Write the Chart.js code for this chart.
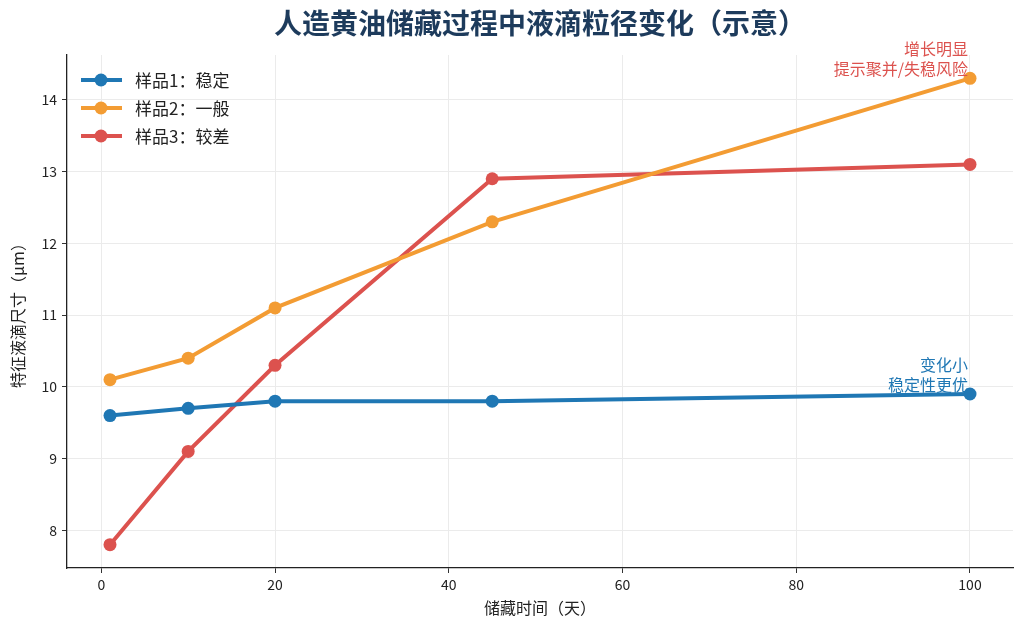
<!DOCTYPE html>
<html>
<head>
<meta charset="utf-8">
<script src="https://cdn.jsdelivr.net/npm/chart.js@4/dist/chart.umd.min.js"></script>
<style>
  html, body { margin: 0; padding: 0; background: #fff; }
  #wrap { width: 1024px; height: 632px; }
</style>
</head>
<body>
<div id="wrap"><canvas id="dropChart"></canvas></div>
<script>
const days = [1, 10, 20, 45, 100]
const sample1 = [9.6, 9.7, 9.8, 9.8, 9.9]
const sample2 = [10.1, 10.4, 11.1, 12.3, 14.3]
const sample3 = [7.8, 9.1, 10.3, 12.9, 13.1]
const seriesNames = ['样品1：稳定', '样品2：一般', '样品3：较差']
const seriesColors = ['#1f77b4', '#f39c33', '#dc524e']
const xTicks = [0, 20, 40, 60, 80, 100]
const yTicks = [8, 9, 10, 11, 12, 13, 14]

const FONT = '"Noto Sans CJK SC", "Noto Sans", sans-serif'

function toPoints(values) {
    return days.map((d, i) => ({ x: d, y: values[i] }))
}

const notes = [
    { x: 100, y: 14.3, lines: ['增长明显', '提示聚并/失稳风险'], color: '#dc524e' },
    { x: 100, y: 9.9, lines: ['变化小', '稳定性更优'], color: '#1f77b4' }
]

const extras = {
    id: 'extras',
    afterDraw(chart) {
        const ctx = chart.ctx
        const xs = chart.scales.x
        const ys = chart.scales.y
        ctx.save()
        // title
        ctx.fillStyle = '#1d3b5c'
        ctx.font = 'bold 28px ' + FONT
        ctx.textAlign = 'center'
        ctx.textBaseline = 'middle'
        ctx.fillText('人造黄油储藏过程中液滴粒径变化（示意）', (chart.chartArea.left + chart.chartArea.right) / 2, 23)

        // annotations
        ctx.font = '16px ' + FONT
        ctx.textAlign = 'right'
        notes.forEach(n => {
            ctx.fillStyle = n.color
            const px = xs.getPixelForValue(n.x) - 2
            const py = ys.getPixelForValue(n.y)
            ctx.fillText(n.lines[0], px, py - 29)
            ctx.fillText(n.lines[1], px, py - 9)
        })

        // legend inside plot
        ctx.textAlign = 'left'
        ctx.font = '17px ' + FONT
        chart.data.datasets.forEach((ds, i) => {
            const y = 80 + i * 28
            ctx.strokeStyle = ds.borderColor
            ctx.lineWidth = 4
            ctx.beginPath()
            ctx.moveTo(81, y)
            ctx.lineTo(122, y)
            ctx.stroke()
            ctx.fillStyle = ds.borderColor
            ctx.beginPath()
            ctx.arc(101, y, 6.5, 0, Math.PI * 2)
            ctx.fill()
            ctx.fillStyle = '#222'
            ctx.fillText(ds.label, 135, y + 1)
        })
        ctx.restore()
    }
}

let ctx = document.getElementById('dropChart').getContext('2d')
let chart = new Chart(ctx, {
    type: 'line',
    data: {
        datasets: [sample1, sample2, sample3].map((vals, i) => ({
            label: seriesNames[i],
            data: toPoints(vals),
            borderColor: seriesColors[i],
            backgroundColor: seriesColors[i],
            borderWidth: 4,
            pointRadius: 6.5,
            pointHoverRadius: 6.5,
            pointBorderWidth: 0,
            tension: 0
        }))
    },
    options: {
        responsive: true,
        maintainAspectRatio: false,
        animation: false,
        devicePixelRatio: 1,
        layout: { padding: { top: 55, right: 11, left: 0, bottom: 0 } },
        plugins: {
            legend: { display: false },
            title: { display: false },
            tooltip: { enabled: false }
        },
        scales: {
            x: {
                type: 'linear',
                min: -3.95,
                max: 104.95,
                afterBuildTicks(axis) { axis.ticks = xTicks.map(v => ({ value: v })) },
                afterFit(axis) { axis.height = 64 },
                grid: { color: '#ebebeb', tickColor: '#333', tickLength: 5, lineWidth: 1 },
                border: { color: '#222', width: 1.3 },
                ticks: { color: '#222', font: { family: FONT, size: 14 }, padding: 3 },
                title: { display: true, text: '储藏时间（天）', color: '#222', font: { family: FONT, size: 16 }, padding: { top: 2, bottom: 14 } }
            },
            y: {
                min: 7.475,
                max: 14.625,
                afterBuildTicks(axis) { axis.ticks = yTicks.map(v => ({ value: v })) },
                afterFit(axis) { axis.width = 67 },
                grid: { color: '#ebebeb', tickColor: '#333', tickLength: 5, lineWidth: 1 },
                border: { color: '#222', width: 1.3 },
                ticks: { color: '#222', font: { family: FONT, size: 14 }, padding: 5 },
                title: { display: true, text: '特征液滴尺寸（μm）', color: '#222', font: { family: FONT, size: 16 }, padding: { top: 8, bottom: 4 } }
            }
        }
    },
    plugins: [extras]
})
</script>
</body>
</html>
